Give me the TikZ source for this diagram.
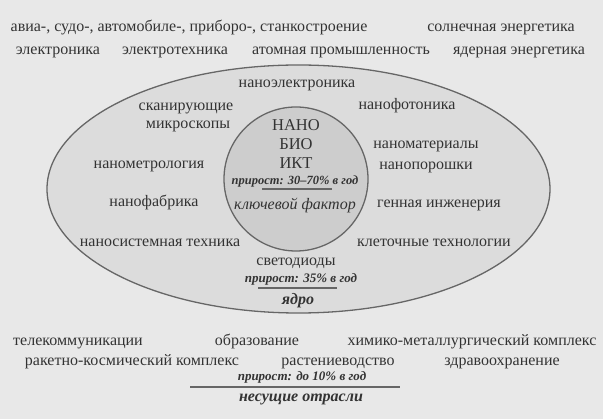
\documentclass[tikz,border=0pt]{standalone}
\usepackage{fontspec}
\setmainfont{Liberation Serif}
\definecolor{bg}{HTML}{E8E8E8}
\definecolor{ellfill}{HTML}{DCDCDC}
\definecolor{cirfill}{HTML}{CDCDCD}
\definecolor{edge}{HTML}{666666}
\definecolor{txt}{HTML}{333333}
\tikzset{
  base/.style={text=txt, inner sep=0pt, text height=11pt, text depth=3pt},
  lbl/.style={base, font=\fontsize{16}{18}\selectfont},
  capl/.style={text=txt, inner sep=0pt, font=\fontsize{16.5}{18}\selectfont},
  growth/.style={text=txt, inner sep=0pt, text height=9pt, text depth=2.5pt, font=\fontsize{13}{15}\selectfont\bfseries\itshape},
  keyf/.style={base, font=\fontsize{16}{18}\selectfont\itshape},
  ttl/.style={base, font=\fontsize{16}{18}\selectfont\bfseries\itshape},
  hrule/.style={draw=edge, line width=1.1pt},
}
\begin{document}
\begin{tikzpicture}[x=1pt,y=-1pt]
\path[fill=bg] (0,0) rectangle (603,419);
\useasboundingbox (0,0) rectangle (603,419);
% shapes
\path[draw=edge, fill=ellfill, line width=1.3pt] (298.5,189) ellipse [x radius=251.5, y radius=124];
\path[draw=edge, fill=cirfill, line width=1.3pt] (296,179) circle [radius=72];
% top rows
\node[lbl] (t1) at (189,28) {авиа-, судо-, автомобиле-, приборо-, станкостроение};
\node[lbl] (t2) at (501,28) {солнечная энергетика};
\node[lbl] (t3) at (58,51) {электроника};
\node[lbl] (t4) at (175,51) {электротехника};
\node[lbl] (t5) at (341,51) {атомная промышленность};
\node[lbl] (t6) at (519,51) {ядерная энергетика};
% ellipse contents
\node[lbl] (e1) at (297,84) {наноэлектроника};
\node[lbl] (e2) at (186,107) {сканирующие};
\node[lbl] (e3) at (188,125) {микроскопы};
\node[lbl] (e4) at (407,106) {нанофотоника};
\node[lbl] (e5) at (149,165) {нанометрология};
\node[lbl] (e6) at (426,145) {наноматериалы};
\node[lbl] (e7) at (426,166) {нанопорошки};
\node[lbl] (e8) at (154,203) {нанофабрика};
\node[lbl] (e9) at (439,204) {генная инженерия};
\node[lbl] (e10) at (160,243) {наносистемная техника};
\node[lbl] (e11) at (434,243) {клеточные технологии};
\node[lbl] (e12) at (296,262) {светодиоды};
\node[growth] (e13) at (301,279) {прирост: 35\% в год};
\coordinate (r2a) at (258,288);
\coordinate (r2b) at (337,288);
\draw[hrule] (r2a) -- (r2b);
\node[ttl] (e14) at (298,301) {ядро};
% circle contents
\node[capl] (c1) at (296,125) {НАНО};
\node[capl] (c2) at (296,144) {БИО};
\node[capl] (c3) at (296,163) {ИКТ};
\node[growth, font=\fontsize{12.5}{14}\selectfont\bfseries\itshape] (c4) at (295,181) {прирост: 30–70\% в год};
\coordinate (r1a) at (262,189);
\coordinate (r1b) at (332,189);
\draw[hrule] (r1a) -- (r1b);
\node[keyf] (c5) at (295,206) {ключевой фактор};
% bottom rows
\node[lbl] (b1) at (78,342) {телекоммуникации};
\node[lbl] (b2) at (257,342) {образование};
\node[lbl] (b3) at (472,342) {химико-металлургический комплекс};
\node[lbl] (b4) at (132,362) {ракетно-космический комплекс};
\node[lbl] (b5) at (338,362) {растениеводство};
\node[lbl] (b6) at (502,362) {здравоохранение};
\node[growth] (b7) at (302,377) {прирост: до 10\% в год};
\coordinate (r3a) at (190,387);
\coordinate (r3b) at (400,387);
\draw[hrule] (r3a) -- (r3b);
\node[ttl] (b8) at (301,398) {несущие отрасли};
\end{tikzpicture}
\end{document}
